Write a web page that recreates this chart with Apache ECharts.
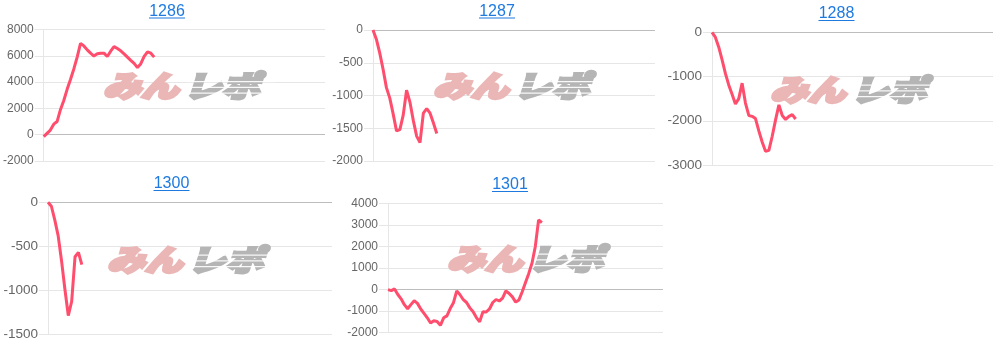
<!DOCTYPE html>
<html>
<head>
<meta charset="utf-8">
<script src="https://cdn.jsdelivr.net/npm/echarts@6/dist/echarts.min.js"></script>
<style>
html,body{margin:0;padding:0;background:#fff;}
#c{width:1001px;height:343px;}
</style>
</head>
<body>
<div id="c"></div>
<script>
// ---- data ----
const titles = ['1286', '1287', '1288', '1300', '1301'];
const slotCount = 85;
const slots = Array.from({length: slotCount}, (_, i) => String(i + 1));

const s1286 = [-150,100,350,800,1000,1900,2600,3450,4200,5000,5900,6950,6750,6450,6200,5980,6150,6200,6200,5950,6350,6700,6550,6380,6150,5900,5650,5420,5100,5400,5950,6300,6200,5900];
const s1287 = [0,-140,-350,-600,-880,-1040,-1280,-1540,-1520,-1300,-920,-1100,-1380,-1620,-1720,-1270,-1200,-1270,-1420,-1580];
const s1288 = [0,-110,-330,-620,-930,-1190,-1400,-1620,-1500,-1150,-1600,-1880,-1900,-1950,-2230,-2480,-2690,-2670,-2350,-1980,-1640,-1880,-1970,-1900,-1860,-1960];
const s1300 = [0,-45,-200,-380,-665,-990,-1290,-1130,-620,-570,-710];
const s1301 = [0,-50,30,-230,-430,-700,-890,-700,-515,-640,-900,-1100,-1310,-1550,-1450,-1480,-1660,-1310,-1220,-880,-610,-60,-240,-470,-600,-850,-1030,-1300,-1490,-1030,-1040,-900,-600,-460,-530,-400,-60,-180,-340,-580,-480,-100,330,750,1230,2000,3230,3100];
const seriesData = [s1286, s1287, s1288, s1300, s1301];

const yMin = [-2000, -2000, -3000, -1500, -2000];
const yMax = [8000, 0, 0, 0, 4000];
const yStep = [2000, 500, 1000, 500, 1000];

// ---- layout ----
const layout = [
  {grid:{left:43, top:29.5, width:282, height:131.5}, fs:12,   tx:167,   ty:11.5, logo:[103,86]},
  {grid:{left:373,top:30,   width:282, height:131},   fs:12,   tx:497,   ty:11.5, logo:[433,86]},
  {grid:{left:712,top:32.3, width:281, height:132.7}, fs:13.5, tx:836.5, ty:14,   logo:[770,89.5]},
  {grid:{left:48, top:202.3,width:284, height:131.7}, fs:13.5, tx:171.5, ty:184,  logo:[107,259.5]},
  {grid:{left:388,top:203.3,width:275, height:129.4}, fs:12,   tx:510,   ty:185,  logo:[447,258.5]}
];

const LINE = '#ff4d6d';
const GRID = '#e6e6e6';
const FONT = '"Liberation Sans", Arial, sans-serif';
const JP = '"Noto Sans CJK JP", sans-serif';

const grids = [], xAxes = [], yAxes = [], series = [], graphics = [];
layout.forEach((L, i) => {
  grids.push(Object.assign({containLabel:false}, L.grid));
  xAxes.push({
    type:'category', gridIndex:i, data:slots, boundaryGap:false,
    axisLine:{show:false}, axisTick:{show:false}, axisLabel:{show:false}, splitLine:{show:false}
  });
  yAxes.push({
    type:'value', gridIndex:i, min:yMin[i], max:yMax[i], interval:yStep[i],
    axisLine:{show:true, lineStyle:{color:GRID, width:1}},
    axisTick:{show:true, length:9, lineStyle:{color:GRID}},
    axisLabel:{color:'#666', fontSize:L.fs, fontFamily:FONT, margin:10, formatter:(v) => String(v)},
    splitLine:{show:true, lineStyle:{color:GRID, width:1}}
  });
  series.push({
    type:'line', xAxisIndex:i, yAxisIndex:i, data:seriesData[i],
    showSymbol:false, symbol:'none', smooth:false, z:5,
    lineStyle:{color:LINE, width:3}, itemStyle:{color:LINE},
    markLine:{silent:true, symbol:'none', label:{show:false},
      lineStyle:{color:'#bdbdbd', width:1, type:'solid'}, data:[{yAxis:0}], animation:false}
  });
  // title
  graphics.push({type:'text', z:10, style:{text:titles[i], x:L.tx, y:L.ty, textAlign:'center', textVerticalAlign:'middle',
    fontSize:16, fontFamily:FONT, fill:'#1f7ae0'}});
  graphics.push({type:'rect', z:10, shape:{x:L.tx-18, y:L.ty+6, width:36, height:1}, style:{fill:'#1f7ae0'}});
  // watermark
  const stripes = [0,1,2].map(k => ({type:'rect', z:2, shape:{x:80, y:-6 + k*7, width:84, height:1.5}, style:{fill:'rgba(255,255,255,0.9)'}}));
  graphics.push({
    type:'group', x:L.logo[0], y:L.logo[1], scaleX:1.05, scaleY:0.82, z:1,
    children:[
      {type:'text', z:1, style:{text:'みん', x:0, y:0, textVerticalAlign:'middle',
        fontSize:36, fontWeight:900, fontStyle:'italic', fontFamily:JP, fill:'#ebb6b6', stroke:'#ebb6b6', lineWidth:3.5}},
      {type:'text', z:1, style:{text:'レポ', x:77, y:0, textVerticalAlign:'middle',
        fontSize:36, fontWeight:900, fontStyle:'italic', fontFamily:JP, fill:'#b5b5b5', stroke:'#b5b5b5', lineWidth:3.5}}
    ].concat(stripes)
  });
});

const chart = echarts.init(document.getElementById('c'), null, {renderer:'canvas'});
chart.setOption({
  animation:false,
  backgroundColor:'#fff',
  grid:grids, xAxis:xAxes, yAxis:yAxes, series:series, graphic:graphics
});
</script>
</body>
</html>
